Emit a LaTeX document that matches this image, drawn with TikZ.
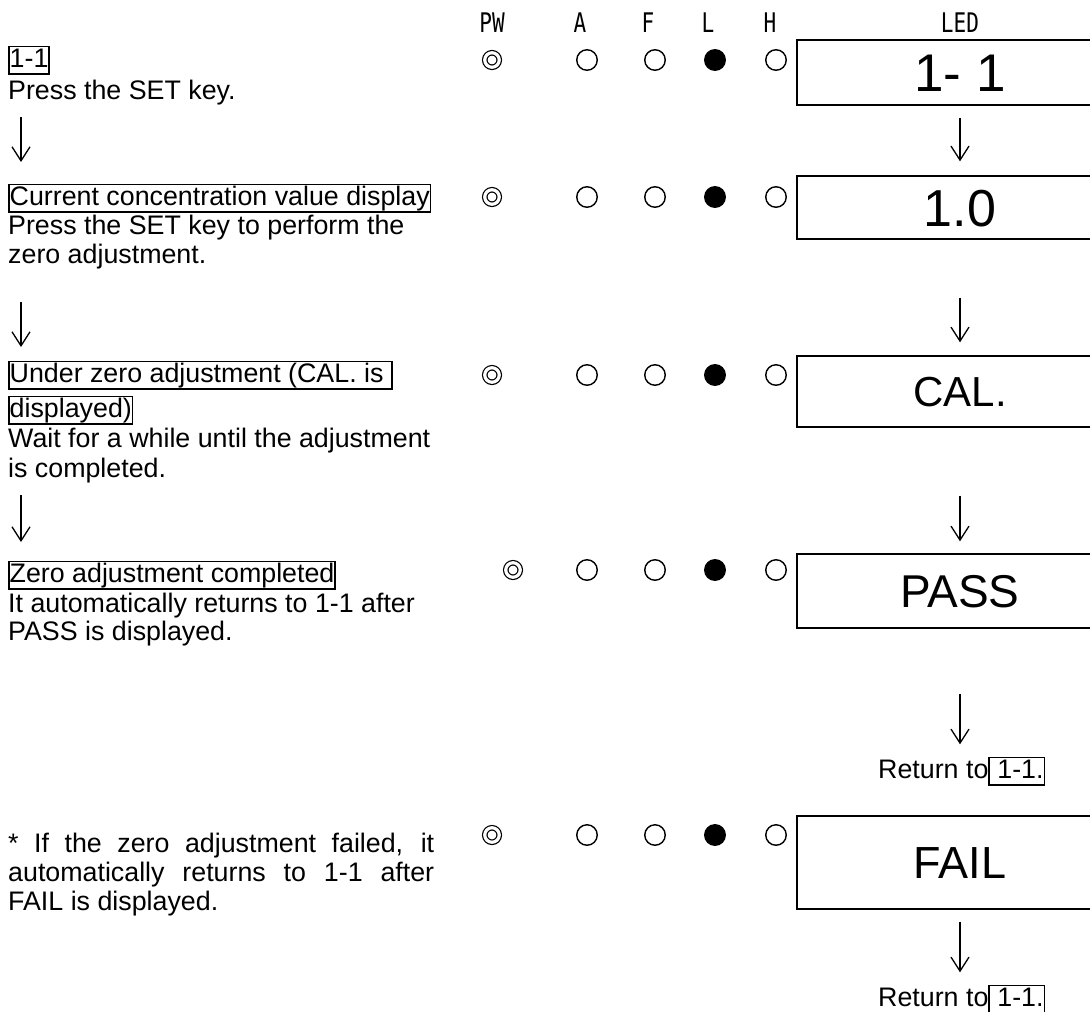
\documentclass[tikz,border=0pt]{standalone}
\usepackage{fontspec}
\setmainfont{Liberation Sans}
\newfontfamily\ledmono{DejaVu Sans Mono}
\usepackage{graphicx}
\usetikzlibrary{positioning, arrows.meta}

\setlength{\lineskiplimit}{-100pt}
\newcommand{\keybox}[1]{{\setlength{\fboxsep}{0pt}\setlength{\fboxrule}{1.5pt}\fbox{\rule[-6pt]{0pt}{26pt}#1}}}
\newcommand{\narrowtxt}[1]{\scalebox{0.78}[1]{#1}}

\begin{document}
\begin{tikzpicture}[
    x=1pt, y=-1pt,
    desc/.style={anchor=base west, inner sep=0pt, align=left, font=\fontsize{26.8}{29}\selectfont},
    head/.style={anchor=base, inner sep=0pt, font=\ledmono\fontsize{27}{30}\selectfont},
    led/.style={draw, line width=1.4pt, inner sep=0pt, minimum width=326pt, text depth=0pt},
    lamp/.style={circle, draw, line width=1.4pt, minimum size=20.5pt, inner sep=0pt},
    lampon/.style={lamp, fill=black},
    power/.style={circle, draw, double, double distance=3.2pt, line width=1.2pt, minimum size=14.5pt, inner sep=0pt},
    flow/.style={-{Straight Barb[length=14pt,width=18pt]}, line width=1.3pt}
]
\useasboundingbox (0,0) rectangle (1090,1012);
\clip (0,0) rectangle (1090,1012);

% Header
\node (hPW) [head] at (492,32) {\narrowtxt{PW}};
\node (hA) [head] at (580,32) {\narrowtxt{A}};
\node (hF) [head] at (648,32) {\narrowtxt{F}};
\node (hL) [head] at (708,32) {\narrowtxt{L}};
\node (hH) [head] at (770,32) {\narrowtxt{H}};
\node (hLED) [head] at (960,32) {\narrowtxt{LED}};

% Steps (base = last line)
\node (blk1) [desc] at (8,99) {\keybox{1-1}\\[3pt]Press the SET key.};
\node (blk2) [desc] at (8,263) {\keybox{Current concentration value display}\\Press the SET key to perform the\\zero adjustment.};
\node (blk3) [desc] at (8,477) {\keybox{Under zero adjustment (CAL. is~}\\[6pt]\keybox{displayed)}\\[1pt]Wait for a while until the adjustment\\[1pt]is completed.};
\node (blk4) [desc] at (8,640) {\keybox{Zero adjustment completed}\\[1pt]It automatically returns to 1-1 after\\[-1pt]PASS is displayed.};
\node (blk5) [desc] at (8,910) {\makebox[426pt][s]{* If the zero adjustment failed, it}\\\makebox[426pt][s]{automatically returns to 1-1 after}\\FAIL is displayed.};

% LED display
\node (led1) [led, minimum height=65pt, text height=38pt, font=\fontsize{53}{60}\selectfont] at (960,72.5) {1- 1};
\node (led2) [led, minimum height=63pt, text height=37pt, font=\fontsize{52}{60}\selectfont] at (960,207.5) {1.0};
\node (led3) [led, minimum height=71pt, text height=30pt, font=\fontsize{42}{50}\selectfont] at (960,391.5) {CAL.};
\node (led4) [led, minimum height=74pt, text height=33pt, font=\fontsize{46}{54}\selectfont] at (960,591) {PASS};
\node (led5) [led, minimum height=93pt, text height=32pt, font=\fontsize{45}{54}\selectfont] at (960,862.5) {FAIL};

\node (ret1) [desc] at (878,778) {Return to\keybox{ 1-1.}};
\node (ret2) [desc] at (878,1006) {Return to\keybox{ 1-1.}};

% Lamps
\node (pw1) [power] at (492,60) {};
\node (a1) [lamp] at (587,60) {};
\node (f1) [lamp] at (655,60) {};
\node (l1) [lampon] at (715,60) {};
\node (h1) [lamp] at (776,60) {};

\node (pw2) [power] at (492,197) {};
\node (a2) [lamp] at (587,197) {};
\node (f2) [lamp] at (655,197) {};
\node (l2) [lampon] at (715,197) {};
\node (h2) [lamp] at (776,197) {};

\node (pw3) [power] at (492,375) {};
\node (a3) [lamp] at (587,375) {};
\node (f3) [lamp] at (655,375) {};
\node (l3) [lampon] at (715,375) {};
\node (h3) [lamp] at (776,375) {};

\node (pw4) [power] at (513,570) {};
\node (a4) [lamp] at (587,570) {};
\node (f4) [lamp] at (655,570) {};
\node (l4) [lampon] at (715,570) {};
\node (h4) [lamp] at (776,570) {};

\node (pw5) [power] at (492,835) {};
\node (a5) [lamp] at (587,835) {};
\node (f5) [lamp] at (655,835) {};
\node (l5) [lampon] at (715,835) {};
\node (h5) [lamp] at (776,835) {};

% Left arrows
\coordinate (d1a) at (21,117);
\coordinate (d1b) at (21,162);
\coordinate (d2a) at (21,302);
\coordinate (d2b) at (21,347);
\coordinate (d3a) at (21,495);
\coordinate (d3b) at (21,542);
\draw [flow] (d1a) -- (d1b);
\draw [flow] (d2a) -- (d2b);
\draw [flow] (d3a) -- (d3b);

% Connections
\draw [flow, shorten <=12pt, shorten >=14pt] (led1) -- (led2);
\draw [flow, shorten <=58pt, shorten >=13pt] (led2) -- (led3);
\draw [flow, shorten <=68pt, shorten >=12pt] (led3) -- (led4);
\draw [flow, shorten <=65pt, shorten >=12pt] (led4.south) -- (led4.south |- ret1.north);
\draw [flow, shorten <=12pt, shorten >=12pt] (led5.south) -- (led5.south |- ret2.north);

\end{tikzpicture}
\end{document}
